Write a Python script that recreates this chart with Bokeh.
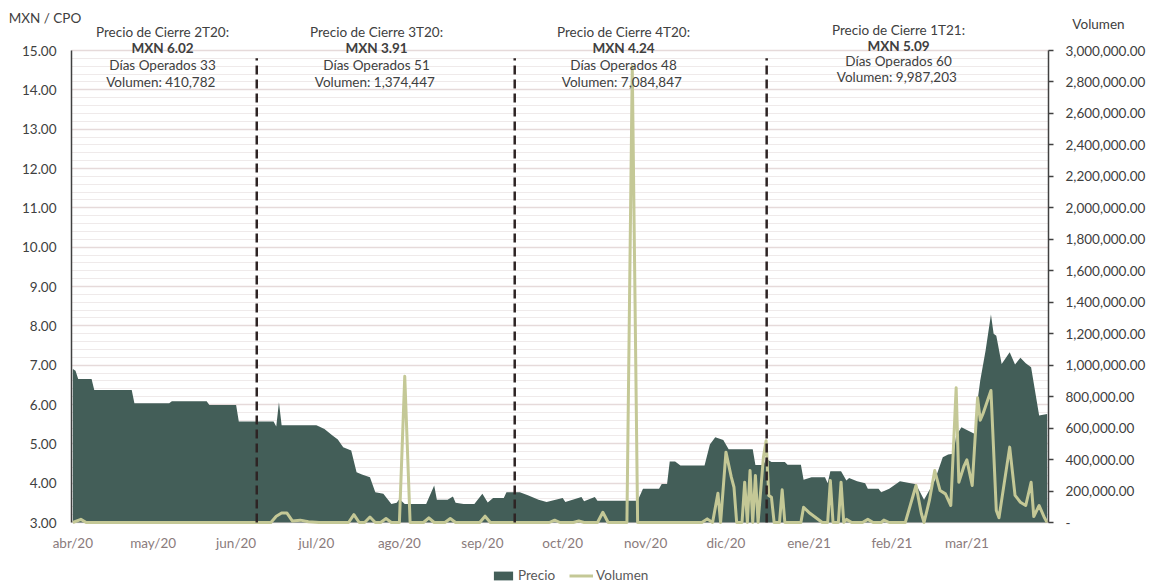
import pandas as pd
from bokeh.plotting import figure
from bokeh.models import (Range1d, LinearAxis, SingleIntervalTicker, FixedTicker,
                          CustomJSTickFormatter, NumeralTickFormatter, Label, Legend,
                          LegendItem, ColumnDataSource)
from bokeh.embed import file_html
from bokeh.resources import INLINE

# ---------------- data ----------------
price_dates = [
    "2020-04-01", "2020-04-02", "2020-04-03", "2020-04-08", "2020-04-09", "2020-04-23",
    "2020-04-24", "2020-05-07", "2020-05-08", "2020-05-21", "2020-05-22", "2020-06-01",
    "2020-06-02", "2020-06-15", "2020-06-16", "2020-06-17", "2020-06-18", "2020-07-01",
    "2020-07-04", "2020-07-07", "2020-07-09", "2020-07-11", "2020-07-14", "2020-07-16",
    "2020-07-18", "2020-07-21", "2020-07-23", "2020-07-26", "2020-07-29", "2020-07-31",
    "2020-08-01", "2020-08-03", "2020-08-11", "2020-08-14", "2020-08-15", "2020-08-19",
    "2020-08-21", "2020-08-22", "2020-08-25", "2020-08-29", "2020-09-01", "2020-09-03",
    "2020-09-05", "2020-09-09", "2020-09-10", "2020-09-15", "2020-09-18", "2020-09-22",
    "2020-09-25", "2020-10-01", "2020-10-02", "2020-10-08", "2020-10-09", "2020-10-13",
    "2020-10-14", "2020-10-29", "2020-10-31", "2020-11-06", "2020-11-07", "2020-11-09",
    "2020-11-10", "2020-11-12", "2020-11-14", "2020-11-23", "2020-11-25", "2020-11-27",
    "2020-11-30", "2020-12-02", "2020-12-11", "2020-12-12", "2020-12-15", "2020-12-16",
    "2020-12-18", "2020-12-23", "2020-12-24", "2020-12-29", "2020-12-30", "2021-01-02",
    "2021-01-07", "2021-01-08", "2021-01-09", "2021-01-13", "2021-01-15", "2021-01-16",
    "2021-01-19", "2021-01-22", "2021-01-23", "2021-01-27", "2021-01-28", "2021-01-31",
    "2021-02-04", "2021-02-08", "2021-02-10", "2021-02-13", "2021-02-17", "2021-02-20",
    "2021-02-22", "2021-02-24", "2021-02-25", "2021-02-27", "2021-03-01", "2021-03-04",
    "2021-03-05", "2021-03-06", "2021-03-08", "2021-03-10", "2021-03-11", "2021-03-12",
    "2021-03-14", "2021-03-17", "2021-03-19", "2021-03-21", "2021-03-23", "2021-03-25",
    "2021-03-28", "2021-03-31",
]
price_values = [
    6.90, 6.86, 6.65, 6.65, 6.37, 6.37,
    6.03, 6.03, 6.08, 6.08, 5.99, 5.99,
    5.57, 5.57, 5.44, 6.06, 5.47, 5.47,
    5.38, 5.21, 5.11, 4.91, 4.83, 4.28,
    4.22, 4.15, 3.77, 3.73, 3.47, 3.50,
    3.60, 3.47, 3.47, 3.94, 3.58, 3.58,
    3.66, 3.50, 3.47, 3.47, 3.73, 3.51,
    3.62, 3.62, 3.77, 3.77, 3.69, 3.58,
    3.52, 3.62, 3.52, 3.65, 3.54, 3.65,
    3.55, 3.55, 3.86, 3.86, 3.98, 3.98,
    4.55, 4.55, 4.45, 4.45, 4.98, 5.17,
    5.10, 4.86, 4.86, 4.46, 4.46, 4.62,
    4.54, 4.54, 4.47, 4.47, 4.09, 4.15,
    4.15, 4.00, 4.30, 4.30, 4.07, 4.13,
    4.05, 4.00, 3.86, 3.86, 3.77, 3.86,
    4.05, 4.00, 3.97, 3.58, 4.07, 4.66,
    4.73, 4.75, 5.21, 5.42, 5.35, 5.25,
    6.10, 6.61, 7.37, 8.29, 7.80, 7.75,
    7.03, 7.33, 7.02, 7.19, 7.05, 6.95,
    5.72, 5.76,
]

volume_dates = [
    "2020-04-01", "2020-04-04", "2020-04-06", "2020-06-14", "2020-06-16", "2020-06-18",
    "2020-06-20", "2020-06-22", "2020-06-25", "2020-06-28", "2020-07-02", "2020-07-13",
    "2020-07-15", "2020-07-17", "2020-07-19", "2020-07-21", "2020-07-23", "2020-07-25",
    "2020-07-27", "2020-07-29", "2020-08-01", "2020-08-03", "2020-08-05", "2020-08-10",
    "2020-08-12", "2020-08-14", "2020-08-18", "2020-08-20", "2020-08-22", "2020-08-31",
    "2020-09-02", "2020-09-04", "2020-09-26", "2020-09-28", "2020-09-30", "2020-10-05",
    "2020-10-07", "2020-10-09", "2020-10-14", "2020-10-16", "2020-10-18", "2020-10-25",
    "2020-10-27", "2020-10-29", "2020-11-22", "2020-11-24", "2020-11-26", "2020-11-28",
    "2020-11-29", "2020-12-01", "2020-12-03", "2020-12-04", "2020-12-05", "2020-12-07",
    "2020-12-08", "2020-12-09", "2020-12-10", "2020-12-11", "2020-12-12", "2020-12-13",
    "2020-12-15", "2020-12-16", "2020-12-17", "2020-12-18", "2020-12-19", "2020-12-21",
    "2020-12-22", "2020-12-23", "2020-12-29", "2020-12-30", "2021-01-01", "2021-01-06",
    "2021-01-08", "2021-01-09", "2021-01-10", "2021-01-12", "2021-01-13", "2021-01-14",
    "2021-01-15", "2021-01-17", "2021-01-21", "2021-01-23", "2021-01-25", "2021-01-28",
    "2021-01-29", "2021-01-31", "2021-02-06", "2021-02-10", "2021-02-12", "2021-02-13",
    "2021-02-15", "2021-02-17", "2021-02-19", "2021-02-21", "2021-02-23", "2021-02-25",
    "2021-02-26", "2021-02-28", "2021-03-01", "2021-03-03", "2021-03-05", "2021-03-06",
    "2021-03-07", "2021-03-10", "2021-03-12", "2021-03-13", "2021-03-17", "2021-03-19",
    "2021-03-21", "2021-03-23", "2021-03-25", "2021-03-26", "2021-03-28", "2021-03-30",
    "2021-03-31",
]
volume_values = [
    0, 20000, 0, 0, 40000, 60000,
    60000, 10000, 15000, 5000, 0, 0,
    50000, 0, 0, 35000, 0, 0,
    25000, 0, 0, 930000, 0, 0,
    30000, 0, 0, 25000, 0, 0,
    40000, 0, 0, 15000, 0, 0,
    10000, 0, 0, 65000, 0, 0,
    2900000, 0, 0, 23000, 0, 186000,
    0, 447000, 288000, 224000, 0, 0,
    256000, 0, 330000, 0, 299000, 0,
    415000, 520000, 172000, 160000, 0, 0,
    208000, 0, 0, 97000, 64000, 0,
    0, 267000, 0, 0, 256000, 0,
    20000, 0, 0, 20000, 0, 0,
    15000, 0, 0, 235000, 57000, 0,
    140000, 330000, 203000, 182000, 108000, 856000,
    256000, 362000, 398000, 235000, 793000, 650000,
    690000, 839000, 76000, 30000, 479000, 172000,
    129000, 108000, 256000, 38000, 108000, 30000,
    0,
]

month_ticks = ["2020-04-01", "2020-05-01", "2020-06-01", "2020-07-01", "2020-08-01",
               "2020-09-01", "2020-10-01", "2020-11-01", "2020-12-01", "2021-01-01",
               "2021-02-01", "2021-03-01"]
month_labels = ["abr/20", "may/20", "jun/20", "jul/20", "ago/20", "sep/20", "oct/20",
                "nov/20", "dic/20", "ene/21", "feb/21", "mar/21"]

quarter_line_dates = ["2020-06-08 17:00", "2020-09-13 02:00", "2020-12-16 05:00"]
quarter_line_bottom = 3.0
quarter_line_top = 14.8

block_titles = ["Precio de Cierre 2T20:", "Precio de Cierre 3T20:",
                "Precio de Cierre 4T20:", "Precio de Cierre 1T21:"]
block_prices = ["MXN 6.02", "MXN 3.91", "MXN 4.24", "MXN 5.09"]
block_days = ["Días Operados 33", "Días Operados 51", "Días Operados 48", "Días Operados 60"]
block_volumes = ["Volumen:  410,782", "Volumen:  1,374,447", "Volumen:  7,084,847",
                 "Volumen:  9,987,203"]

price_axis = (3.0, 15.0)
volume_axis = (0.0, 3000000.0)
date_axis = ("2020-03-31 12:00", "2021-03-31 12:00")

# ---------------- layout (page pixels) ----------------
FONT = "Lato"
W, H = 1152, 583
PL, PR, PT, PB = 71, 1048, 50, 522      # plotting-area edges in page pixels
AREA_COLOR = "#435e58"
VOL_COLOR = "#c4c896"
TEXT_COLOR = "#404040"

# the frame covers the whole canvas; axes are fixed inside it
x0_ms = pd.Timestamp(date_axis[0]).value / 1e6
x1_ms = pd.Timestamp(date_axis[1]).value / 1e6
ms_per_px = (x1_ms - x0_ms) / (PR - PL)
xr = Range1d(x0_ms - PL * ms_per_px, x1_ms + (W - PR) * ms_per_px)
py_per_px = (price_axis[1] - price_axis[0]) / (PB - PT)
yr = Range1d(price_axis[0] - (H - PB) * py_per_px, price_axis[1] + PT * py_per_px)
vy_per_px = (volume_axis[1] - volume_axis[0]) / (PB - PT)
vr = Range1d(volume_axis[0] - (H - PB) * vy_per_px, volume_axis[1] + PT * vy_per_px)


def sx(px):
    return px


def sy(py):
    return H - py


price_src = ColumnDataSource(dict(x=pd.to_datetime(price_dates), y=price_values,
                                  base=[price_axis[0]] * len(price_values)))
vol_src = ColumnDataSource(dict(x=pd.to_datetime(volume_dates), y=volume_values))

p = figure(width=W, height=H, x_axis_type="datetime", output_backend="svg",
           toolbar_location=None, tools="", x_range=xr, y_range=yr,
           min_border=0, min_border_left=0, min_border_right=0, min_border_top=0,
           min_border_bottom=0)
p.outline_line_color = None
p.background_fill_color = "white"
p.border_fill_color = "white"
p.extra_y_ranges = {"vol": vr}

# left axis
yticker = SingleIntervalTicker(interval=1, num_minor_ticks=5)
la = p.yaxis[0]
la.ticker = yticker
la.fixed_location = x0_ms
la.bounds = price_axis
la.formatter = NumeralTickFormatter(format="0.00")
la.major_tick_out = 0
la.major_tick_in = 0
la.minor_tick_out = 0
la.minor_tick_in = 0
la.axis_line_color = "#404040"
la.axis_line_width = 1.5
la.major_label_standoff = 15
la.major_label_text_font = FONT
la.major_label_text_font_size = "13.5px"
la.major_label_text_color = TEXT_COLOR

# grid
g = p.ygrid[0]
g.ticker = yticker
g.bounds = price_axis
if "cross_bounds" in g.properties():
    g.cross_bounds = (x0_ms, x1_ms)
g.grid_line_color = "#e6dada"
g.grid_line_width = 1.5
g.minor_grid_line_color = "#efeaea"
g.minor_grid_line_width = 1
p.xgrid.grid_line_color = None

# bottom axis
xa = p.xaxis[0]
xa.fixed_location = price_axis[0]
xa.bounds = (x0_ms, x1_ms)
tick_ms = [pd.Timestamp(d).value / 1e6 for d in month_ticks]
xa.ticker = FixedTicker(ticks=tick_ms, minor_ticks=[])
xa.formatter = CustomJSTickFormatter(args=dict(tvals=tick_ms, tlabels=month_labels), code="""
    for (let i = 0; i < tvals.length; i++) {
        if (Math.abs(tvals[i] - tick) < 1000) return tlabels[i];
    }
    return "";
""")
xa.axis_line_color = None
xa.major_tick_out = 0
xa.major_tick_in = 0
xa.minor_tick_out = 0
xa.major_label_standoff = 12
xa.major_label_text_font = FONT
xa.major_label_text_font_size = "13.5px"
xa.major_label_text_color = "#8a7b7c"

# right axis
ra = LinearAxis(y_range_name="vol", ticker=SingleIntervalTicker(interval=200000, num_minor_ticks=0))
ra.fixed_location = x1_ms
ra.bounds = volume_axis
ra.formatter = CustomJSTickFormatter(code="""
    if (Math.abs(tick) < 1e-6) return "-";
    return tick.toLocaleString('en-US', {minimumFractionDigits: 2, maximumFractionDigits: 2});
""")
ra.axis_line_color = "#404040"
ra.axis_line_width = 1.5
ra.major_tick_in = 0
ra.major_tick_out = 5
ra.major_tick_line_color = "#404040"
ra.major_tick_line_width = 1.5
ra.minor_tick_out = 0
ra.minor_tick_in = 0
ra.major_label_standoff = 12
ra.major_label_text_font = FONT
ra.major_label_text_font_size = "13.5px"
ra.major_label_text_color = TEXT_COLOR
p.add_layout(ra, "right")

# glyphs
area = p.varea(x="x", y1="base", y2="y", source=price_src, fill_color=AREA_COLOR)
vol = p.line(x="x", y="y", source=vol_src, y_range_name="vol", line_color=VOL_COLOR,
             line_width=3, line_join="round")

qx = pd.to_datetime(quarter_line_dates)
p.segment(x0=qx, y0=[quarter_line_bottom] * len(qx), x1=qx, y1=[quarter_line_top] * len(qx),
          line_color="#2e2424", line_width=2.5, line_dash="9 5")

# text blocks (page pixel positions)
block_x = [162, 376, 623, 898]
block_y_sets = [[31, 47.5, 64.5, 81], [31, 47.5, 64.5, 81], [31, 47.5, 64.5, 81],
                [29.5, 45.5, 60.5, 76.5]]
for bx, ys, t, pr, d, v in zip(block_x, block_y_sets, block_titles, block_prices,
                              block_days, block_volumes):
    for txt, wy, style in zip([t, pr, d, v], ys, ["normal", "bold", "normal", "normal"]):
        p.add_layout(Label(x=sx(bx), y=sy(wy), x_units="screen", y_units="screen",
                           text=txt, text_font=FONT, text_font_size="13.5px",
                           text_font_style=style, text_color=TEXT_COLOR,
                           text_align="center", text_baseline="middle"))

# axis titles
p.add_layout(Label(x=sx(44.5), y=sy(17), x_units="screen", y_units="screen", text="MXN / CPO",
                   text_font=FONT, text_font_size="13.5px", text_color=TEXT_COLOR,
                   text_align="center", text_baseline="middle"))
p.add_layout(Label(x=sx(1098), y=sy(23), x_units="screen", y_units="screen", text="Volumen",
                   text_font=FONT, text_font_size="13.5px", text_color=TEXT_COLOR,
                   text_align="center", text_baseline="middle"))

# legend
legend = Legend(items=[LegendItem(label="Precio", renderers=[area]),
                       LegendItem(label="Volumen", renderers=[vol])],
                orientation="horizontal", location=(sx(491), sy(570) - 13),
                label_text_font=FONT, label_text_font_size="13.5px", label_text_color="#595959",
                glyph_width=24, glyph_height=11, label_height=13, label_standoff=3, spacing=14,
                padding=0, margin=0, border_line_color=None, background_fill_alpha=0)
p.add_layout(legend, "center")

open("out.html", "w").write(file_html(p, INLINE))
